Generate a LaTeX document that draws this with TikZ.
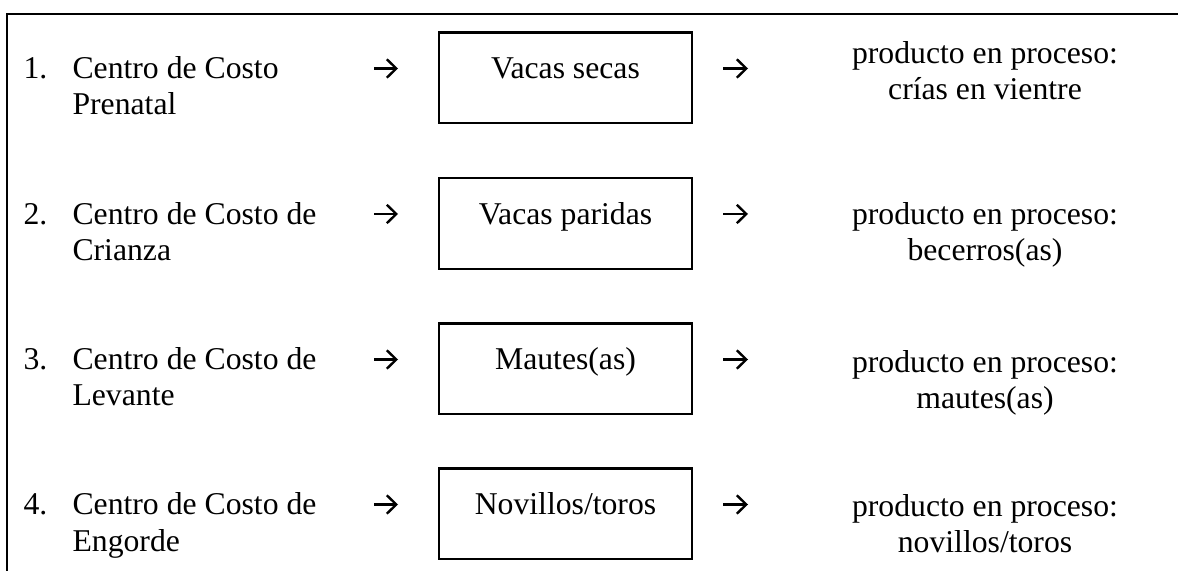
\documentclass[tikz,border=0pt]{standalone}
\usepackage{fontspec}
\setmainfont{Liberation Serif}
\usetikzlibrary{arrows.meta,positioning}

\begin{document}
\begin{tikzpicture}[x=0.3785pt, y=-0.3785pt,
                    every node/.style={inner sep=0pt, font=\fontsize{12}{13.7}\selectfont},
                    centro/.style={anchor=base west, align=left},
                    etapa/.style={draw, line width=0.8pt, anchor=base, minimum width=95.8pt,
                                  text height=17.6pt, text depth=16.8pt},
                    producto/.style={anchor=base, align=center},
                    flecha/.style={line width=0.9pt, -{Straight Barb[length=3.6pt, width=7pt]}}]
  \useasboundingbox (0,0) rectangle (1178,571);
  % marco
  \coordinate (marco_a) at (7,571);
  \coordinate (marco_b) at (7,14);
  \coordinate (marco_c) at (1178,14);
  \draw[line width=0.8pt] (marco_a) -- (marco_b) -- (marco_c);
  % centros de costo (base = ultima linea)
  \node[centro] (n1) at (23,79) {1.};
  \node[centro] (prenatal) at (72,115) {Centro de Costo\\Prenatal};
  \node[centro] (n2) at (23,224.5) {2.};
  \node[centro] (crianza) at (72,260.5) {Centro de Costo de\\Crianza};
  \node[centro] (n3) at (23,370) {3.};
  \node[centro] (levante) at (72,406) {Centro de Costo de\\Levante};
  \node[centro] (n4) at (23,515) {4.};
  \node[centro] (engorde) at (72,551) {Centro de Costo de\\Engorde};
  % animales
  \node[etapa] (vacas_secas) at (565.5,79) {Vacas secas};
  \node[etapa] (vacas_paridas) at (565.5,224.5) {Vacas paridas};
  \node[etapa] (mautes) at (565.5,370) {Mautes(as)};
  \node[etapa] (novillos) at (565.5,515) {Novillos/toros};
  % productos en proceso
  \node[producto] (crias) at (985,100) {producto en proceso:\\crías en vientre};
  \node[producto] (becerros) at (985,261) {producto en proceso:\\becerros(as)};
  \node[producto] (mautes_p) at (985,409) {producto en proceso:\\mautes(as)};
  \node[producto] (novillos_p) at (985,553) {producto en proceso:\\novillos/toros};
  % flechas
  \coordinate (f1a) at (374,68.5);   \coordinate (f1b) at (398,68.5);
  \coordinate (f1c) at (723,68.5);   \coordinate (f1d) at (748,68.5);
  \coordinate (f2a) at (374,214);    \coordinate (f2b) at (398,214);
  \coordinate (f2c) at (723,214);    \coordinate (f2d) at (748,214);
  \coordinate (f3a) at (374,359.5);  \coordinate (f3b) at (398,359.5);
  \coordinate (f3c) at (723,359.5);  \coordinate (f3d) at (748,359.5);
  \coordinate (f4a) at (374,504.5);  \coordinate (f4b) at (398,504.5);
  \coordinate (f4c) at (723,504.5);  \coordinate (f4d) at (748,504.5);
  \draw[flecha] (f1a) -- (f1b);
  \draw[flecha] (f1c) -- (f1d);
  \draw[flecha] (f2a) -- (f2b);
  \draw[flecha] (f2c) -- (f2d);
  \draw[flecha] (f3a) -- (f3b);
  \draw[flecha] (f3c) -- (f3d);
  \draw[flecha] (f4a) -- (f4b);
  \draw[flecha] (f4c) -- (f4d);
\end{tikzpicture}
\end{document}
